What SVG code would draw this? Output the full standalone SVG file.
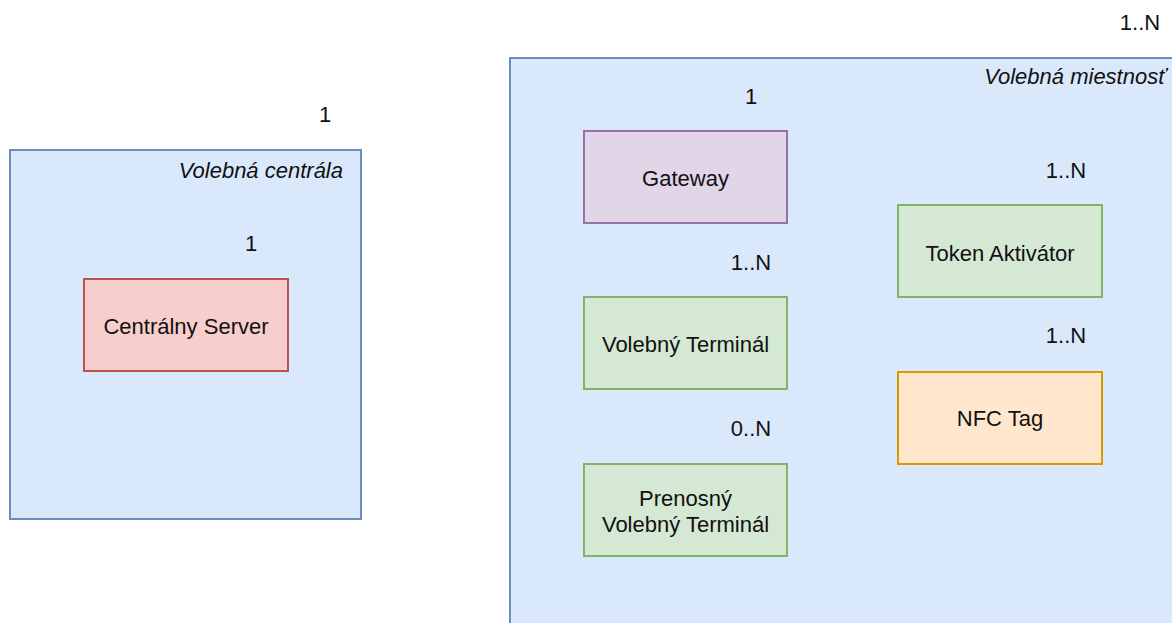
<svg xmlns="http://www.w3.org/2000/svg" width="1172" height="623" viewBox="0 0 1172 623">
<style>
text{font-family:"Liberation Sans",Arial,sans-serif;font-size:22px;fill:#111111}
.c{text-anchor:middle}
.r{text-anchor:end;font-style:italic}
.box{stroke-width:2}
.blue{fill:#dae8fc;stroke:#6c8ebf}
.red{fill:#f8cecc;stroke:#b85450}
.purple{fill:#e1d5e7;stroke:#9673a6}
.green{fill:#d5e8d4;stroke:#82b366}
.orange{fill:#ffe6cc;stroke:#d79b00}
</style>
<rect width="1172" height="623" fill="#ffffff"/>
<g id="volebna-centrala">
<rect class="box blue" x="10" y="150" width="351" height="369"/>
<text class="r" x="343" y="178">Volebná centrála</text>
<text class="c" x="325" y="122">1</text>
</g>
<g id="volebna-miestnost">
<rect class="box blue" x="510" y="58" width="700" height="600"/>
<text class="r" x="1166" y="84">Volebná miestnosť</text>
<text class="c" x="1140" y="30">1..N</text>
</g>
<g id="centralny-server">
<rect class="box red" x="84" y="279" width="204" height="92"/>
<text class="c" x="186" y="334">Centrálny Server</text>
<text class="c" x="251" y="251">1</text>
</g>
<g id="gateway">
<rect class="box purple" x="584" y="131" width="203" height="92"/>
<text class="c" x="685.5" y="186">Gateway</text>
<text class="c" x="751" y="104">1</text>
</g>
<g id="volebny-terminal">
<rect class="box green" x="584" y="297" width="203" height="92"/>
<text class="c" x="685.5" y="352">Volebný Terminál</text>
<text class="c" x="751" y="270">1..N</text>
</g>
<g id="prenosny-volebny-terminal">
<rect class="box green" x="584" y="464" width="203" height="92"/>
<text class="c" x="685.5" y="506">Prenosný</text>
<text class="c" x="685.5" y="532">Volebný Terminál</text>
<text class="c" x="751" y="436">0..N</text>
</g>
<g id="token-aktivator">
<rect class="box green" x="898" y="205" width="204" height="92"/>
<text class="c" x="1000" y="261">Token Aktivátor</text>
<text class="c" x="1066" y="178">1..N</text>
</g>
<g id="nfc-tag">
<rect class="box orange" x="898" y="372" width="204" height="92"/>
<text class="c" x="1000" y="426">NFC Tag</text>
<text class="c" x="1066" y="343">1..N</text>
</g>
<g id="connectors"></g>
</svg>
